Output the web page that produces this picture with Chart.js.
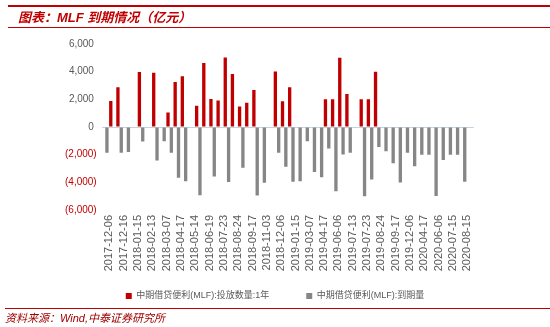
<!DOCTYPE html>
<html><head><meta charset="utf-8">
<script src="https://cdn.jsdelivr.net/npm/chart.js@4"></script>
<style>
html,body{margin:0;padding:0;background:#fff;}
#wrap{position:relative;width:550px;height:327px;overflow:hidden;background:#fff;}
canvas{position:absolute;left:0;top:0;}
.rule{position:absolute;background:#c00000;}
#title{position:absolute;left:18px;top:9px;font-family:"Liberation Sans","Noto Sans CJK SC",sans-serif;font-style:italic;font-weight:bold;font-size:13px;line-height:18px;color:#c00000;white-space:nowrap;}
#source{position:absolute;left:5px;top:311px;font-family:"Liberation Sans","Noto Sans CJK SC",sans-serif;font-style:italic;font-size:11px;line-height:14px;color:#a00000;white-space:nowrap;}
</style></head>
<body><div id="wrap">
<canvas id="c" width="550" height="327"></canvas>
<div class="rule" style="left:8px;top:5px;width:542px;height:2px"></div>
<div id="title">图表：MLF 到期情况（亿元）</div>
<div class="rule" style="left:8px;top:27px;width:542px;height:1px"></div>
<div class="rule" style="left:5px;top:308px;width:545px;height:1px"></div>
<div id="source">资料来源：Wind,中泰证券研究所</div>
</div>
<script>
const tickLabels = ['2017-12-06','2017-12-16','2018-01-15','2018-02-13','2018-03-07','2018-04-17','2018-05-14','2018-06-19','2018-07-23','2018-08-24','2018-09-17','2018-11-03','2018-12-06','2019-01-15','2019-03-07','2019-04-17','2019-06-06','2019-07-13','2019-07-23','2019-08-24','2019-09-17','2019-12-06','2020-04-17','2020-06-06','2020-07-15','2020-08-15'];
const injection = [null,1880,2880,null,null,3980,null,3930,null,1050,3260,3670,null,1540,4630,2020,1910,5030,3830,1490,1760,2670,null,null,4020,1870,2870,null,null,null,null,2000,2000,5000,2390,null,2000,2000,4000,null,null,null,null,null,null,null,null,null,null,null,null,null];
const maturity = [-1870,null,-1870,-1810,null,-1050,null,-2420,-1030,-1870,-3660,-3920,null,-4940,null,-3570,null,-3980,null,-2950,null,-4950,-4035,null,-1870,-2870,-3960,-3915,-1030,-3250,-3640,-1550,-4640,-1990,-1860,null,-5000,-3800,-1450,-1750,-2620,-4010,-1870,-2835,-2015,-2000,-4980,-2390,-2000,-2000,-3950,null];
const seriesNames = ['中期借贷便利(MLF):投放数量:1年','中期借贷便利(MLF):到期量'];
const yMin = -6000, yMax = 6000, yStep = 2000;

const categories = tickLabels.flatMap(d => ['', d]);
const FONT = '"Liberation Sans","Noto Sans CJK SC",sans-serif';

new Chart(document.getElementById('c'), {
  type: 'bar',
  data: {
    labels: categories,
    datasets: [
      {label: seriesNames[0], data: injection, backgroundColor: '#c00000', categoryPercentage: 0.93, barPercentage: 1.0},
      {label: seriesNames[1], data: maturity, backgroundColor: '#868686', categoryPercentage: 0.93, barPercentage: 1.0}
    ]
  },
  options: {
    responsive: false,
    animation: false,
    devicePixelRatio: 1,
    layout: {padding: {top: 44, bottom: 16.5, left: 0, right: 0}},
    plugins: {
      tooltip: {enabled: false},
      legend: {
        position: 'bottom',
        labels: {
          boxWidth: 6, boxHeight: 6, padding: 10, color: '#595959',
          font: {size: 9, family: FONT},
          generateLabels(chart) {
            const items = Chart.defaults.plugins.legend.labels.generateLabels(chart);
            items.forEach(it => { it.lineWidth = 0; });
            items[0].text = items[0].text + '\u3000\u3000\u3000';
            return items;
          }
        }
      }
    },
    scales: {
      x: {
        grid: {display: false, drawTicks: false},
        border: {display: false},
        ticks: {
          autoSkip: false, minRotation: 90, maxRotation: 90, padding: 5, labelOffset: -3,
          color: '#595959', font: {size: 11, family: FONT}
        },
        afterFit(s) { s.height = 71.5; }
      },
      y: {
        min: yMin, max: yMax,
        border: {display: false},
        grid: {drawTicks: false, color: c => c.tick && c.tick.value === 0 ? '#c5d3e0' : 'rgba(0,0,0,0)'},
        ticks: {
          stepSize: yStep, padding: 5,
          font: {size: 10, family: FONT},
          color: c => c.tick && c.tick.value < 0 ? '#c00000' : '#595959',
          callback: v => v < 0 ? '(' + Math.abs(v).toLocaleString('en-US') + ')' : v.toLocaleString('en-US') + ' '
        },
        afterFit(s) { s.width = 101.7; }
      },
      y2: {
        position: 'right', display: true,
        grid: {display: false}, border: {display: false},
        ticks: {display: false},
        afterFit(s) { s.width = 76.2; }
      }
    }
  }
});
</script>
</body></html>
